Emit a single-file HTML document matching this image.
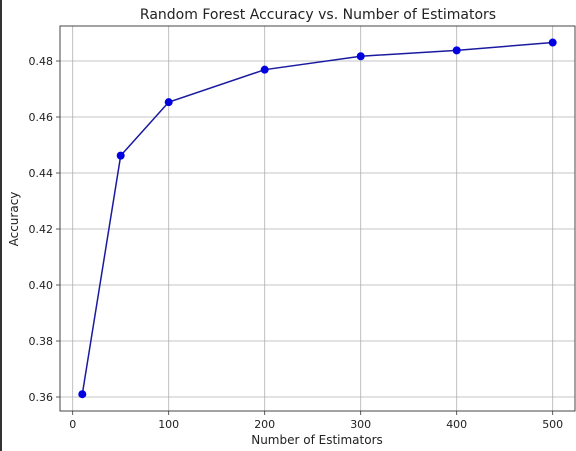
<!DOCTYPE html>
<html><head><meta charset="utf-8"><style>
html,body{margin:0;padding:0;background:#fff;}
svg{display:block;font-family:"DejaVu Sans","Liberation Sans",sans-serif;}
</style></head><body>
<svg id="chart" width="576" height="451" viewBox="0 0 576 451">
<rect x="0" y="0" width="2" height="451" fill="#333"/>
<text x="318" y="19" font-size="14" text-anchor="middle" fill="#222">Random Forest Accuracy vs. Number of Estimators</text>
<g id="grid"></g>
<g id="axes"></g>
<g id="series"></g>
<text x="317" y="444" font-size="12" text-anchor="middle" fill="#222">Number of Estimators</text>
<text x="18" y="219" font-size="12" text-anchor="middle" fill="#222" transform="rotate(-90 18 219)">Accuracy</text>
</svg>
<script>
const estimators=[10,50,100,200,300,400,500];
const accuracy=[0.361,0.4462,0.4653,0.4769,0.4817,0.4838,0.4866];
const xTicks=[0,100,200,300,400,500];
const yTicks=[0.36,0.38,0.40,0.42,0.44,0.46,0.48];
const L=60,R=575,T=26,B=411;
const xs=v=>72.7+v*0.96;
const ys=v=>397-(v-0.36)*2800;
const NS='http://www.w3.org/2000/svg';
function mk(t,a,p){const e=document.createElementNS(NS,t);for(const k in a)e.setAttribute(k,a[k]);p.appendChild(e);return e;}
const g=document.getElementById('grid'),ax=document.getElementById('axes'),s=document.getElementById('series');
xTicks.forEach(v=>{const x=xs(v);
const l=mk('line',{x1:x,x2:x,y1:T,y2:B,stroke:'#b0b0b0','stroke-width':0.8},g);


mk('line',{x1:x,x2:x,y1:B,y2:B+4,stroke:'#333','stroke-width':0.8},ax);
const t=mk('text',{x:x,y:B+17,'font-size':11,'text-anchor':'middle',fill:'#222'},ax);t.textContent=v;

});
yTicks.forEach(v=>{const y=ys(v);
const l=mk('line',{x1:L,x2:R,y1:y,y2:y,stroke:'#b0b0b0','stroke-width':0.8},g);


mk('line',{x1:L-4,x2:L,y1:y,y2:y,stroke:'#333','stroke-width':0.8},ax);
const t=mk('text',{x:L-7,y:y+4,'font-size':11,'text-anchor':'end',fill:'#222'},ax);t.textContent=v.toFixed(2);

});
const fr=mk('rect',{x:L,y:T,width:R-L,height:B-T,fill:'none',stroke:'#333','stroke-width':0.9},ax);


const pl=mk('polyline',{points:estimators.map((e,i)=>xs(e)+','+ys(accuracy[i])).join(' '),fill:'none',stroke:'#1a1aa0','stroke-width':1.5},s);


estimators.forEach((e,i)=>{const c=mk('circle',{cx:xs(e),cy:ys(accuracy[i]),r:4,fill:'#0000e0'},s);

});
</script>
</body></html>
